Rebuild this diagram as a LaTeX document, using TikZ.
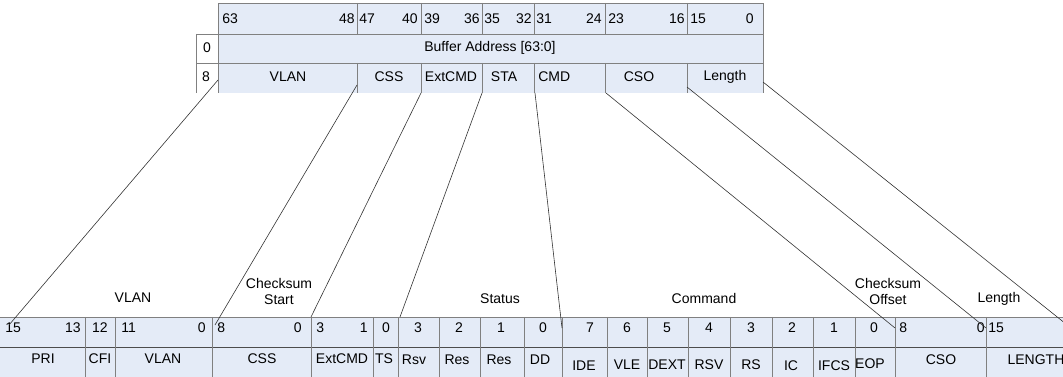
\documentclass[tikz,border=0pt]{standalone}
\usepackage{fontspec}
\setmainfont{Liberation Sans}
\usepackage{tikz}
\definecolor{descFill}{RGB}{228,235,247}
\definecolor{gridGray}{gray}{0.5}
\definecolor{ruleDark}{gray}{0.3}
\tikzset{
  cellrule/.style={draw=gridGray, line width=0.7pt},
  rowrule/.style={draw=ruleDark, line width=0.7pt},
  txt/.style={font=\fontsize{10.5}{12}\selectfont, inner sep=0pt, align=center},
  bitl/.style={txt, anchor=west},
  bitr/.style={txt, anchor=east},
  link/.style={draw=black!80, line width=0.45pt}
}

\begin{document}
\begin{tikzpicture}[x=0.75pt, y=-0.75pt]
  \useasboundingbox (0,0) rectangle (1063,377);
  \clip (0,0) rectangle (1063,377);

  % descriptor layout, top
  \fill[descFill] (218,3) rectangle (763,93);
  \draw[cellrule] (218,93) -- (218,3) -- (763,3) -- (763,93);
  \draw[cellrule] (196,34) -- (763,34);
  \draw[cellrule] (196,63) -- (763,63);
  \draw[cellrule] (196,34) -- (196,93);
  \foreach \x in {357,421,482,534,605,687} {
    \draw[cellrule] (\x,3) -- (\x,34);
    \draw[cellrule] (\x,63) -- (\x,93);
  }
  \node[bitl] (b63) at (222,19) {63};
  \node[bitr] (b48) at (355,19) {48};
  \node[bitl] (b47) at (359,19) {47};
  \node[bitr] (b40) at (418,19) {40};
  \node[bitl] (b39) at (424,19) {39};
  \node[bitr] (b36) at (480,19) {36};
  \node[bitl] (b35) at (484,19) {35};
  \node[bitr] (b32) at (532,19) {32};
  \node[bitl] (b31) at (536,19) {31};
  \node[bitr] (b24) at (602,19) {24};
  \node[bitl] (b23) at (608,19) {23};
  \node[bitr] (b16) at (685,19) {16};
  \node[bitl] (b15) at (690,19) {15};
  \node[bitr] (b0) at (754,19) {0};

  \node[txt] (row0) at (207,48) {0};
  \node[txt] (bufaddr) at (490,48) {Buffer Address [63:0]};

  \node[txt] (row8) at (206,77) {8};
  \node[txt] (tVlan) at (288,77) {VLAN};
  \node[txt] (tCss) at (389,77) {CSS};
  \node[txt] (tExt) at (451,77) {ExtCMD};
  \node[txt] (tSta) at (504,77) {STA};
  \node[bitl] (tCmd) at (538,77) {CMD};
  \node[txt] (tCso) at (639,77) {CSO};
  \node[txt] (tLen) at (725,77) {Length};

  % field breakdown, bottom
  \fill[descFill] (0,317) rectangle (1063,377);
  \draw[cellrule] (0,317) -- (1063,317);
  \draw[rowrule] (0,347) -- (1063,347);
  \foreach \x in {85,115,212,311,373,398,439,480,524,562,607,647,688,730,772,813,855,895,986}
    \draw[cellrule] (\x,317) -- (\x,377);

  \node[txt] (gVlan) at (133,298) {VLAN};
  \node[txt] (gCss) at (279,291) {Checksum\\Start};
  \node[txt] (gSta) at (500,299) {Status};
  \node[txt] (gCmd) at (704,298) {Command};
  \node[txt] (gCso) at (888,291) {Checksum\\Offset};
  \node[txt] (gLen) at (999,299) {Length};

  \node[bitl] (v15) at (5,328) {15};
  \node[bitr] (v13) at (81,328) {13};
  \node[txt] (v12) at (100,328) {12};
  \node[bitl] (v11) at (121,328) {11};
  \node[bitr] (v0) at (206,328) {0};
  \node[bitl] (s8) at (217,328) {8};
  \node[bitr] (s0) at (302,328) {0};
  \node[bitl] (e3) at (316,328) {3};
  \node[bitr] (e1) at (368,328) {1};
  \node[txt] (ts0) at (386,328) {0};
  \node[txt] (st3) at (418,328) {3};
  \node[txt] (st2) at (459,328) {2};
  \node[txt] (st1) at (501,328) {1};
  \node[txt] (st0) at (543,328) {0};
  \node[txt] (c7) at (590,328) {7};
  \node[txt] (c6) at (627,328) {6};
  \node[txt] (c5) at (667,328) {5};
  \node[txt] (c4) at (709,328) {4};
  \node[txt] (c3) at (751,328) {3};
  \node[txt] (c2) at (792,328) {2};
  \node[txt] (c1) at (834,328) {1};
  \node[txt] (c0) at (874,328) {0};
  \node[bitl] (o8) at (899,328) {8};
  \node[bitr] (o0) at (985,328) {0};
  \node[bitl] (l15) at (988,328) {15};

  \node[txt] (fPri) at (43,359) {PRI};
  \node[txt] (fCfi) at (100,359) {CFI};
  \node[txt] (fVlan) at (163,359) {VLAN};
  \node[txt] (fCss) at (262,359) {CSS};
  \node[txt] (fExt) at (342,359) {ExtCMD};
  \node[txt] (fTs) at (384,359) {TS};
  \node[txt] (fRsv) at (414,360) {Rsv};
  \node[txt] (fRes) at (457,360) {Res};
  \node[txt] (fRes2) at (499,360) {Res};
  \node[txt] (fDd) at (540,360) {DD};
  \node[txt] (fIde) at (584,366) {IDE};
  \node[txt] (fVle) at (627,365) {VLE};
  \node[txt] (fDext) at (667,365) {DEXT};
  \node[txt] (fRsvc) at (709,365) {RSV};
  \node[txt] (fRs) at (751,365) {RS};
  \node[txt] (fIc) at (791,366) {IC};
  \node[txt] (fIfcs) at (834,366) {IFCS};
  \node[txt] (fEop) at (870,364) {EOP};
  \node[txt] (fCso) at (941,360) {CSO};
  \node[txt] (fLen) at (1036,360) {LENGTH};

  % fan-out lines
  \coordinate (vlanTop) at (218,80);
  \coordinate (vlanBot) at (9,325);
  \coordinate (cssTop) at (357,85);
  \coordinate (cssBot) at (215,325);
  \coordinate (extTop) at (421,93);
  \coordinate (extBot) at (311,317);
  \coordinate (staTop) at (482,93);
  \coordinate (staBot) at (400,317);
  \coordinate (cmdTop) at (535,93);
  \coordinate (cmdBot) at (562,328);
  \coordinate (csoTop) at (606,93);
  \coordinate (csoBot) at (895,328);
  \coordinate (lenTop) at (687,87);
  \coordinate (lenBot) at (986,328);
  \coordinate (endTop) at (763,82);
  \coordinate (endBot) at (1066,324);
  \draw[link] (vlanTop) -- (vlanBot);
  \draw[link] (cssTop) -- (cssBot);
  \draw[link] (extTop) -- (extBot);
  \draw[link] (staTop) -- (staBot);
  \draw[link] (cmdTop) -- (cmdBot);
  \draw[link] (csoTop) -- (csoBot);
  \draw[link] (lenTop) -- (lenBot);
  \draw[link] (endTop) -- (endBot);
\end{tikzpicture}
\end{document}
